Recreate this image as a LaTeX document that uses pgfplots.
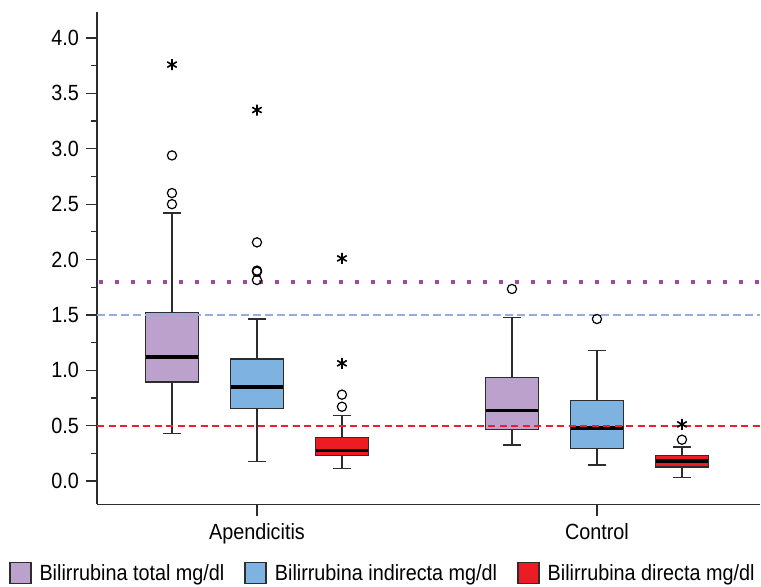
\documentclass[border=0pt]{standalone}
\usepackage{fontspec}
\setmainfont{Liberation Sans}[FakeStretch=0.9]
\usepackage{pgfplots}
\pgfplotsset{compat=1.18}
\usepgfplotslibrary{statistics}

\definecolor{cTot}{RGB}{187,161,203}
\definecolor{cInd}{RGB}{126,178,224}
\definecolor{cDir}{RGB}{237,28,36}
\definecolor{refPurple}{RGB}{166,72,150}
\definecolor{refBlue}{RGB}{151,173,219}
\definecolor{refRed}{RGB}{240,30,40}
\definecolor{cLine}{RGB}{45,45,45}

\pgfplotsset{
  sqlegend/.style={legend image code/.code={\draw[##1] (0pt,-10.5pt) rectangle (21pt,10.5pt);}},
  mybox/.style={forget plot, draw=cLine, line width=1.5pt,
    boxplot/draw direction=y,
    boxplot/box extend=0.62, boxplot/whisker extend=0.22,
    boxplot/every median/.style={draw=black, line width=3.5pt}},
}

\begin{document}
\begin{tikzpicture}[font=\fontsize{22}{26}\selectfont]
\begin{axis}[
  scale only axis, width=663pt, height=492.3pt,
  xmin=-0.882, xmax=6.918, ymin=-0.21, ymax=4.235,
  axis lines=left, axis line style={-, line width=1.4pt, draw=cLine},
  tick align=outside, major tick length=11.5pt, minor tick length=6pt,
  tick style={line width=1.3pt, draw=cLine},
  xtick={1,5}, xticklabels={Apendicitis,Control},
  xticklabel style={yshift=-4pt},
  ytick={0,0.5,1,1.5,2,2.5,3,3.5,4},
  minor ytick={0.25,0.75,1.25,1.75,2.25,2.75,3.25,3.75},
  yticklabel style={xshift=-3pt},
  /pgf/number format/.cd, fixed, fixed zerofill, precision=1, assume math mode=true, /pgfplots/.cd,
  legend columns=3, legend cell align=left,
  legend style={draw=none, fill=none, at={(-0.1327,-0.1395)}, anchor=west,
    inner sep=0pt, outer sep=0pt, font=\fontsize{22}{26}\selectfont,
    /tikz/every odd column/.append style={column sep=6pt},
    /tikz/every even column/.append style={column sep=18pt}},
]
\addlegendimage{sqlegend, fill=cTot, draw=cLine, line width=1.5pt}
\addlegendentry{Bilirrubina total mg/dl}
\addlegendimage{sqlegend, fill=cInd, draw=cLine, line width=1.5pt}
\addlegendentry{Bilirrubina indirecta mg/dl}
\addlegendimage{sqlegend, fill=cDir, draw=cLine, line width=1.5pt}
\addlegendentry{Bilirrubina directa mg/dl}

% Apendicitis
\addplot[mybox, boxplot/every box/.style={fill=cTot}, boxplot prepared={draw position=0,
  lower whisker=0.43, lower quartile=0.894, median=1.12, upper quartile=1.52, upper whisker=2.42}] coordinates {};
\addplot[mybox, boxplot/every box/.style={fill=cInd}, boxplot prepared={draw position=1,
  lower whisker=0.175, lower quartile=0.653, median=0.85, upper quartile=1.10, upper whisker=1.465}] coordinates {};
\addplot[mybox, boxplot/every box/.style={fill=cDir}, boxplot prepared={draw position=2,
  lower whisker=0.115, lower quartile=0.232, median=0.274, upper quartile=0.395, upper whisker=0.593}] coordinates {};
% Control
\addplot[mybox, boxplot/every box/.style={fill=cTot}, boxplot prepared={draw position=4,
  lower whisker=0.325, lower quartile=0.467, median=0.638, upper quartile=0.936, upper whisker=1.478}] coordinates {};
\addplot[mybox, boxplot/every box/.style={fill=cInd}, boxplot prepared={draw position=5,
  lower whisker=0.144, lower quartile=0.292, median=0.479, upper quartile=0.725, upper whisker=1.18}] coordinates {};
\addplot[mybox, boxplot/every box/.style={fill=cDir}, boxplot prepared={draw position=6,
  lower whisker=0.033, lower quartile=0.129, median=0.18, upper quartile=0.232, upper whisker=0.307}] coordinates {};

% reference lines
\addplot[forget plot, draw=refPurple, line width=4pt, dash pattern=on 4pt off 12pt] coordinates {(-0.86,1.8) (6.918,1.8)};
\addplot[forget plot, draw=refBlue, line width=2pt, dash pattern=on 7.7pt off 4.3pt] coordinates {(-0.882,1.5) (6.918,1.5)};
\addplot[forget plot, color=refRed, line width=1.8pt, dash pattern=on 7pt off 4.5pt] coordinates {(-0.882,0.5) (6.918,0.5)};

% outliers
\addplot[forget plot, only marks, mark=o, mark size=4.6pt, mark options={draw=black, fill=white, line width=1.2pt}]
  coordinates {(0,2.94) (0,2.60) (0,2.50) (1,2.155) (1,1.90) (1,1.89) (1,1.815) (2,0.671) (2,0.78)
               (4,1.734) (5,1.463) (6,0.373)};
\addplot[forget plot, only marks, mark=asterisk, mark size=5.5pt, mark options={draw=black, line width=1.6pt}]
  coordinates {(0,3.76) (1,3.35) (2,1.063) (2,2.01) (6,0.512)};

\coordinate (bl) at (rel axis cs:0,0);
\coordinate (tr) at (rel axis cs:1,1);
\end{axis}
\pgfresetboundingbox
\path ([shift={(-97pt,-81.7pt)}]bl) rectangle ([shift={(1pt,12pt)}]tr);
\end{tikzpicture}
\end{document}
